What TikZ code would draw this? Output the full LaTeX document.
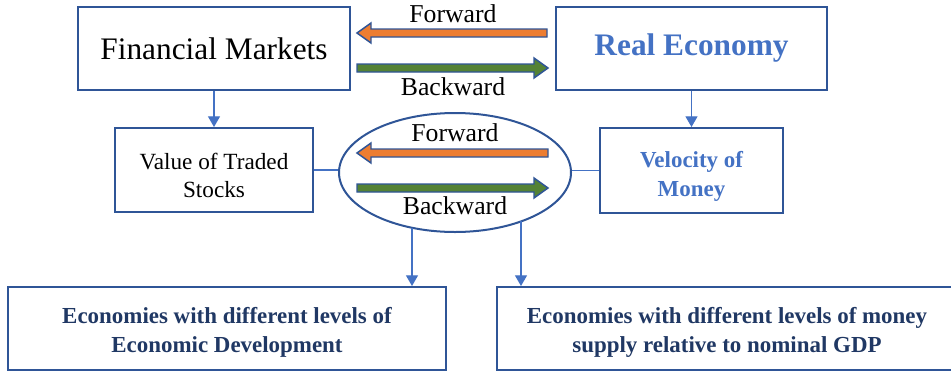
\documentclass[tikz,border=0pt]{standalone}
\usepackage{fontspec}
\setmainfont{Liberation Serif}
\usetikzlibrary{shapes.geometric,arrows.meta}
\definecolor{boxblue}{HTML}{2F5597}
\definecolor{linkblue}{HTML}{4472C4}
\definecolor{fwdorange}{HTML}{ED7D31}
\definecolor{bwdgreen}{HTML}{548235}
\definecolor{navy}{HTML}{203864}

% block arrows: tail x, tip x, centre y, fill colour
\newcommand\fatright[4]{\filldraw[fat,fill=#4] (#1,#3-4) -- (#2-14,#3-4) -- (#2-14,#3-10) -- (#2,#3) -- (#2-14,#3+10) -- (#2-14,#3+4) -- (#1,#3+4) -- cycle;}
\newcommand\fatleft[4]{\filldraw[fat,fill=#4] (#1,#3-4) -- (#2+14,#3-4) -- (#2+14,#3-10) -- (#2,#3) -- (#2+14,#3+10) -- (#2+14,#3+4) -- (#1,#3+4) -- cycle;}
% strut that lowers a two-line text block inside its box
\newcommand\lowstrut[1]{\rule{0pt}{#1}}

\begin{document}
\begin{tikzpicture}[x=0.75pt,y=-0.75pt,
  box/.style={draw=boxblue,line width=1.5pt,fill=white,inner sep=0pt,align=center},
  link/.style={draw=linkblue,line width=0.9pt},
  linkarrow/.style={link,-{Triangle[width=9pt,length=8pt]}},
  fat/.style={draw=boxblue,line width=1.1pt,line join=miter},
  lbl/.style={font=\fontsize{19.3}{22}\selectfont,inner sep=0pt,anchor=base},
  big/.style={font=\fontsize{23.5}{28}\selectfont},
  bigb/.style={font=\fontsize{23.5}{28}\selectfont\bfseries},
  body/.style={font=\fontsize{17.4}{21}\selectfont},
  bodyb/.style={font=\fontsize{17.2}{21.75}\selectfont\bfseries}
]
\useasboundingbox (0,0) rectangle (951,372);
\clip (0,0) rectangle (951,372);

% top row
\node[box,big,minimum width=204pt,minimum height=62.25pt] (fm) at (214,48.5) {Financial Markets};
\node[box,bigb,minimum width=203.25pt,minimum height=62.25pt,text=linkblue] (re) at (691.5,48.5) {Real Economy};

% middle row
\node[box,body,minimum width=148.5pt,minimum height=63pt] (vts) at (214,170) {\lowstrut{20.5pt}Value of Traded\\Stocks};
\node[box,bodyb,minimum width=137.25pt,minimum height=63.75pt,text=linkblue] (vom) at (691.5,170.5) {\lowstrut{20.5pt}Velocity of\\Money};
\node[draw=boxblue,line width=1.5pt,fill=white,ellipse,inner sep=0pt,minimum width=174pt,minimum height=89.25pt] (ell) at (455,172.5) {};

% bottom row
\node[box,bodyb,text=navy,minimum width=328.5pt,minimum height=62.25pt] (bl) at (227,328.5) {\lowstrut{18.5pt}Economies with different levels of\\Economic Development};
\node[box,bodyb,text=navy,minimum width=345pt,minimum height=62.25pt] (br) at (727,328.5) {\lowstrut{18.5pt}Economies with different levels of money\\supply relative to nominal GDP};

% connectors
\draw[linkarrow] (fm.south) -- (vts.north);
\draw[linkarrow] (re.south) -- (vom.north);
\draw[link] (vts.east) -- (vts.east -| ell.west);
\draw[link] (vom.west) -- (vom.west -| ell.east);
\coordinate (eL) at (412,227.8);
\coordinate (eR) at (521,221.4);
\draw[linkarrow] (eL) -- (eL |- bl.north);
\draw[linkarrow] (eR) -- (eR |- br.north);

% forward / backward block arrows
\fatleft{547}{357}{33}{fwdorange}
\fatright{357}{548}{68}{bwdgreen}
\fatleft{548}{357}{153}{fwdorange}
\fatright{357}{548}{188}{bwdgreen}

\node[lbl] (fw1) at (453,22) {Forward};
\node[lbl] (bw1) at (453,95) {Backward};
\node[lbl] (fw2) at (455,141) {Forward};
\node[lbl] (bw2) at (455,214) {Backward};
\end{tikzpicture}
\end{document}
